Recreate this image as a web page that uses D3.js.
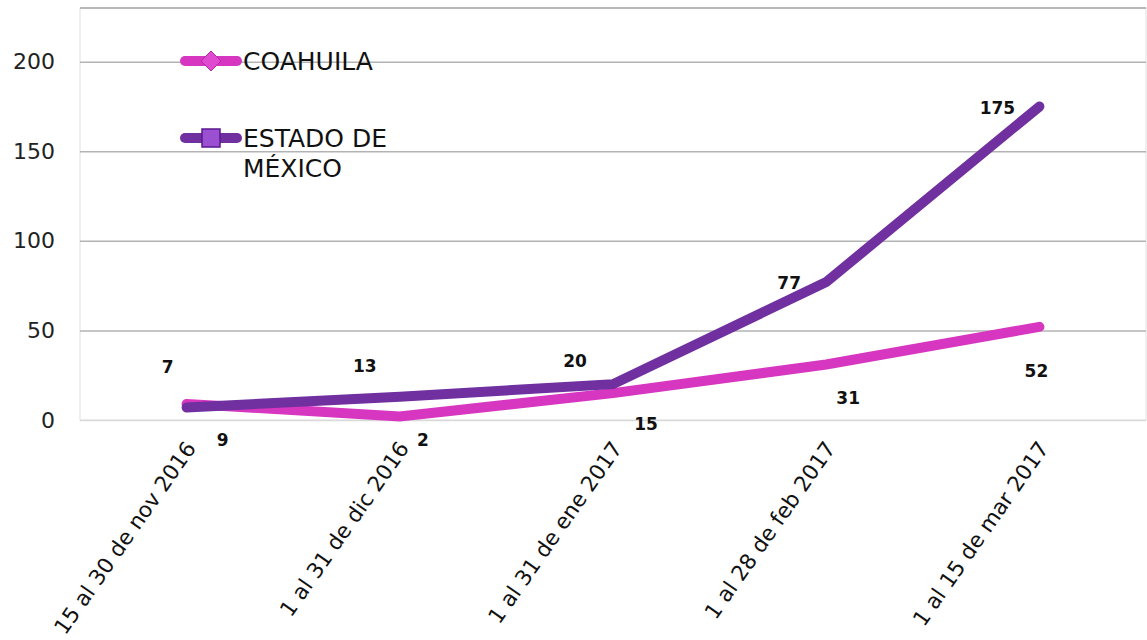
<!DOCTYPE html>
<html>
<head>
<meta charset="utf-8">
<script src="https://cdn.jsdelivr.net/npm/d3@7"></script>
<style>
  body { margin: 0; background: #fff; }
  text { font-family: "DejaVu Sans", sans-serif; }
</style>
</head>
<body>
<script>
// data
var categories = ["15 al 30 de nov 2016", "1 al 31 de dic 2016", "1 al 31 de ene 2017", "1 al 28 de feb 2017", "1 al 15 de mar 2017"];
var coahuila = [9, 2, 15, 31, 52];
var edomex = [7, 13, 20, 77, 175];
var yTicks = [0, 50, 100, 150, 200];

var screenW = 1147, screenH = 640;
var plotL = 80, plotR = 1146, plotT = 8, plotB = 420;

var svg = d3.select("body").append("svg")
                .attr("width", screenW)
                .attr("height", screenH);

var x = d3.scalePoint().domain(categories).range([plotL, plotR]).padding(0.5);
var y = d3.scaleLinear().domain([0, 230]).range([plotB, plotT]);

//plot area border
svg.append("rect")
    .attr("x", plotL).attr("y", plotT)
    .attr("width", plotR - plotL).attr("height", plotB - plotT)
    .style("fill", "none").style("stroke", "#e0e0e0").style("stroke-width", 1);
svg.append("line")
    .attr("x1", plotL).attr("x2", plotR).attr("y1", plotT).attr("y2", plotT)
    .style("stroke", "#a6a6a6").style("stroke-width", 1.5);

//gridlines + y labels
var yAxis = svg.append("g")
    .attr("transform", "translate(" + plotL + ",0)")
    .call(d3.axisLeft(y).tickValues(yTicks).tickSize(-(plotR - plotL)).tickPadding(25));
yAxis.select(".domain").remove();
yAxis.selectAll(".tick line")
    .style("stroke", function(d){ return d === 0 ? "#d9d9d9" : "#b3b3b3"; })
    .style("stroke-width", 1.5);
yAxis.selectAll(".tick text")
    .style("font-family", "DejaVu Sans")
    .style("font-size", "22px").style("fill", "#222");

//category labels
var xAxis = svg.append("g").attr("class", "xLabels");
xAxis.selectAll("text").data(categories).enter().append("text")
    .attr("transform", function(d){ return "translate(" + (x(d) + 4) + "," + (plotB + 24) + ") rotate(-55)"; })
    .attr("text-anchor", "end")
    .attr("dy", "0.35em")
    .style("font-size", "21.5px")
    .style("fill", "#111")
    .text(function(d){ return d; });

var line = d3.line()
    .x(function(d, i){ return x(categories[i]); })
    .y(function(d){ return y(d); });

var seriesList = [
    { name: "COAHUILA", values: coahuila, color: "#d636c0" },
    { name: "ESTADO DE MÉXICO", values: edomex, color: "#7030a0" }
];

var linesGroup = svg.append("g").attr("class", "lines");
seriesList.forEach(function(s){
    linesGroup.append("path")
        .attr("d", line(s.values))
        .style("fill", "none")
        .style("stroke", s.color)
        .style("stroke-width", 10)
        .style("stroke-linejoin", "miter")
        .style("stroke-linecap", "round");
});

//data labels, nudged the way the original chart had them
var coaOff = [[36, 36], [23, 24], [33, 31], [22, 34], [-3, 44]];
var edoOff = [[-19, -40], [-35, -31], [-38, -23], [-37, 1], [-42, 2]];
var labelGroup = svg.append("g").attr("class", "dataLabels");
function addLabels(vals, off){
    labelGroup.selectAll(null).data(vals).enter().append("text")
        .attr("x", function(d, i){ return x(categories[i]) + off[i][0]; })
        .attr("y", function(d, i){ return y(d) + off[i][1]; })
        .attr("text-anchor", "middle")
        .attr("dy", "0.35em")
        .style("font-size", "17px")
        .style("font-weight", "bold")
        .style("fill", "#111")
        .text(function(d){ return d; });
}
addLabels(coahuila, coaOff);
addLabels(edomex, edoOff);

//legend
var legend = svg.append("g").attr("class", "legend");
var legRows = [
    { s: seriesList[0], y: 61, lines: ["COAHUILA"] },
    { s: seriesList[1], y: 138, lines: ["ESTADO DE", "MÉXICO"] }
];
legRows.forEach(function(r, k){
    legend.append("line")
        .attr("x1", 185).attr("x2", 237).attr("y1", r.y).attr("y2", r.y)
        .style("stroke", r.s.color).style("stroke-width", 10).style("stroke-linecap", "round");
    if (k === 0) {
        legend.append("path")
            .attr("d", "M211," + (r.y - 10) + " L221," + r.y + " L211," + (r.y + 10) + " L201," + r.y + " Z")
            .style("fill", "#e04ad0").style("stroke", "#b02aa0").style("stroke-width", 1);
    } else {
        legend.append("rect")
            .attr("x", 202).attr("y", r.y - 9).attr("width", 18).attr("height", 18)
            .style("fill", "#9a50d0").style("stroke", "#5a1890").style("stroke-width", 1.5);
    }
    r.lines.forEach(function(t, j){
        legend.append("text")
            .attr("x", 243).attr("y", r.y + j * 30)
            .attr("dy", "0.35em")
            .style("font-size", "25px")
            .style("fill", "#111")
            .text(t);
    });
});
</script>
</body>
</html>
